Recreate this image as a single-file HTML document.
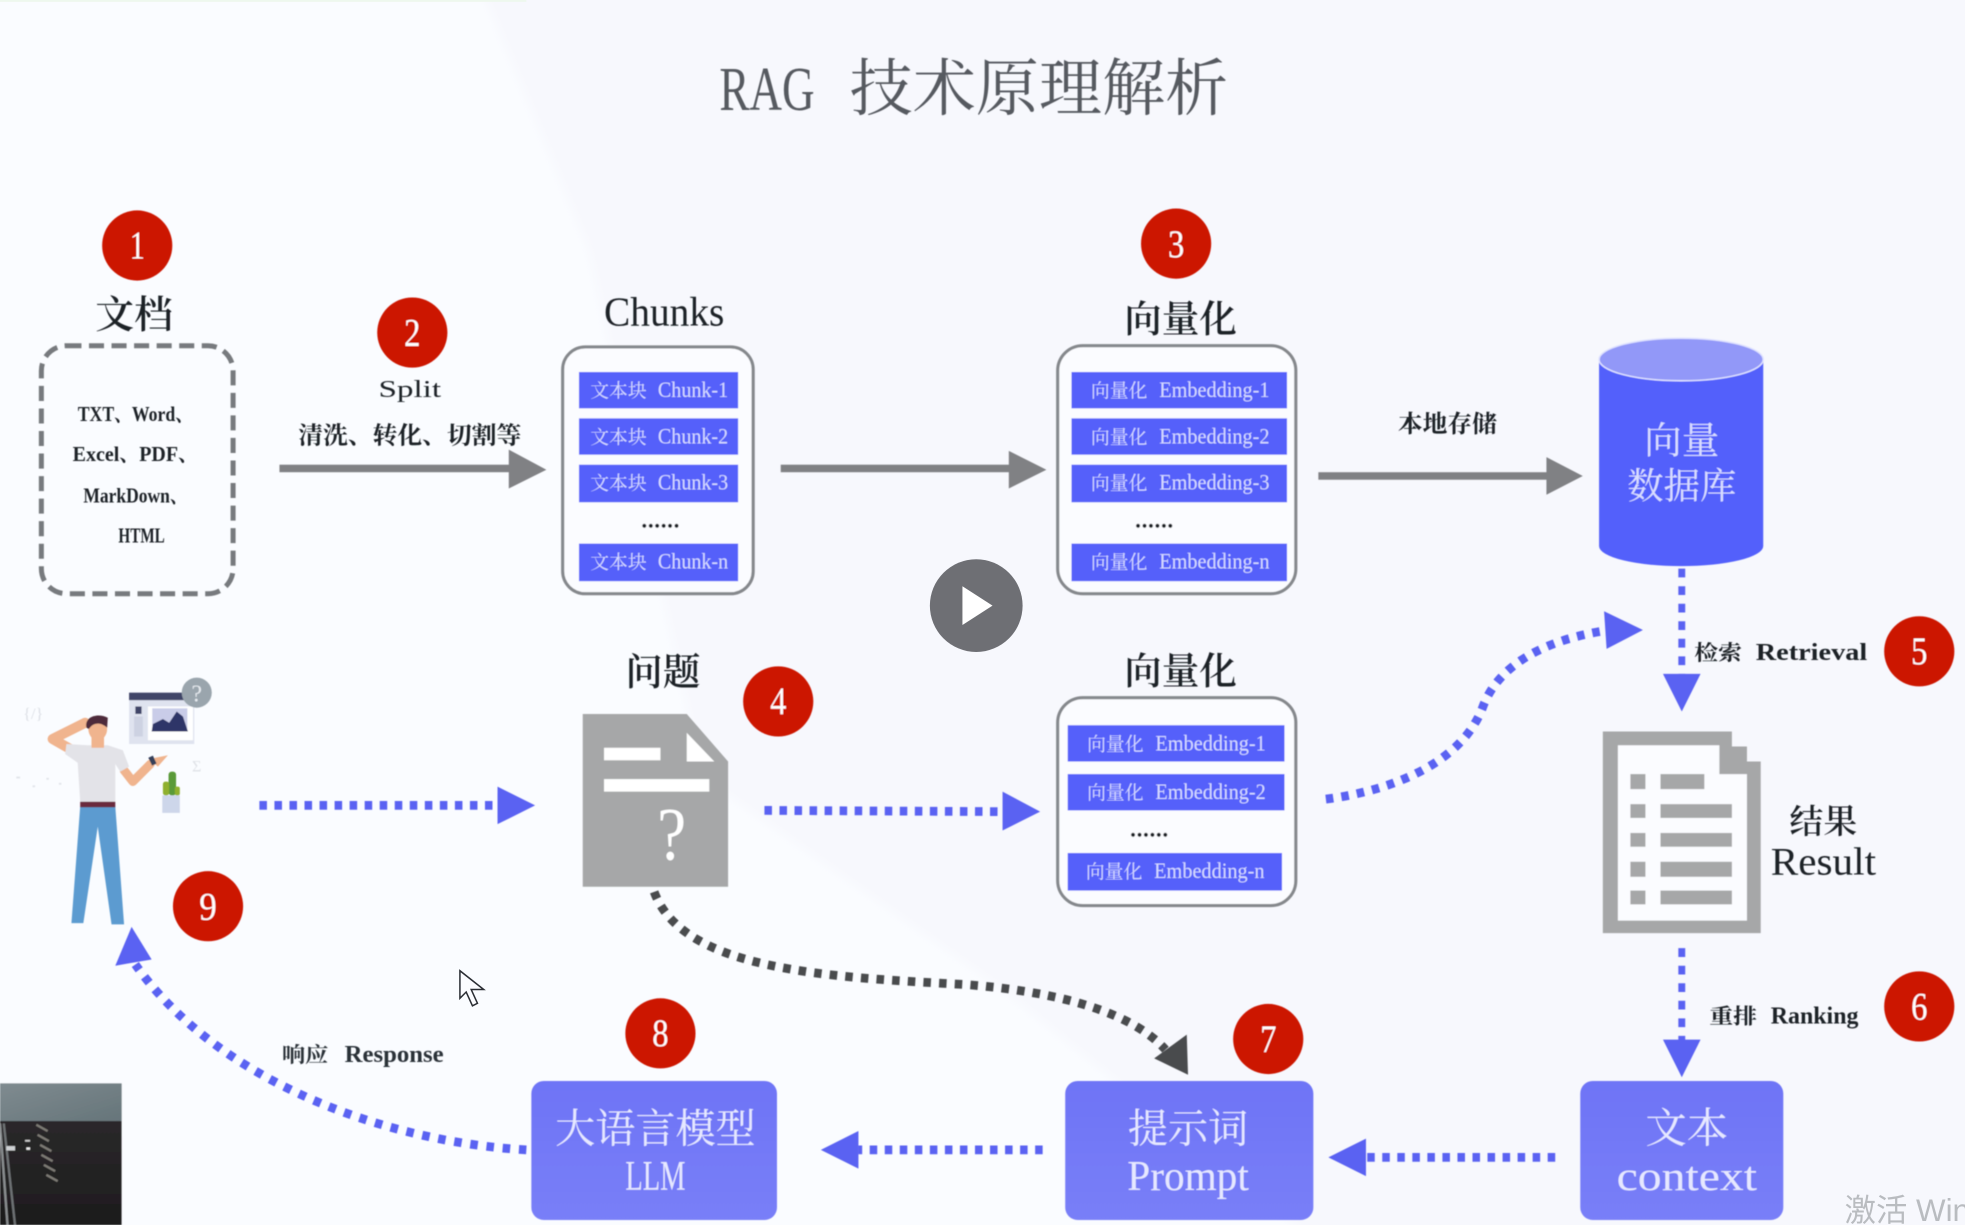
<!DOCTYPE html>
<html lang="zh"><head><meta charset="utf-8"><title>RAG 技术原理解析</title>
<style>
html,body{margin:0;padding:0;width:1965px;height:1225px;overflow:hidden;background:#fafcff}
svg{display:block;position:absolute;left:0;top:0}
text{font-family:"Liberation Serif","Noto Serif CJK SC",serif;text-anchor:middle}
.d{fill:#1d2026}
.n{fill:#fff;font-size:31px}
.c{fill:#d6daff;font-size:15px}
.l{fill:#d6daff;font-size:18px}
.w{fill:#e6e8ff}
.s{font-weight:700;font-size:17px;fill:#1d2026}
.ls{font-weight:700;font-size:19px;fill:#1d2026}
.dot{fill:none;stroke-linecap:butt}
.el{font-size:17px;font-weight:700;fill:#1d2026;stroke:#1d2026;stroke-width:.5}
</style></head><body>
<svg width="1965" height="1225" viewBox="0 0 1568 978" preserveAspectRatio="none" xmlns="http://www.w3.org/2000/svg">
<defs>
<linearGradient id="cam" x1="0" y1="0" x2="0" y2="1"><stop offset="0" stop-color="#2f2d2f"/><stop offset="1" stop-color="#1d1c1d"/></linearGradient>
<linearGradient id="camt" x1="0" y1="0" x2="1" y2="1"><stop offset="0" stop-color="#7f8b90"/><stop offset="1" stop-color="#66757a"/></linearGradient>
<linearGradient id="btn" x1="0" y1="0" x2="0" y2="1"><stop offset="0" stop-color="#6e74f6"/><stop offset="1" stop-color="#797ff8"/></linearGradient>
<filter id="soft" x="-2%" y="-2%" width="104%" height="104%"><feGaussianBlur stdDeviation="0.5"/></filter>
<filter id="bg" x="-5%" y="-5%" width="110%" height="110%"><feGaussianBlur stdDeviation="4"/></filter>
</defs>
<rect width="1568" height="978" fill="#fafcff"/>
<polygon points="380,-20 1600,-20 1600,1000 1060,1000 800,790 560,620 470,200" fill="#f7f8fd" filter="url(#bg)"/>
<rect x="0" y="0" width="420" height="1.5" fill="#eef8ee"/>
<g filter="url(#soft)">
<text x="612" y="88" font-size="50" fill="#565a60" textLength="76" lengthAdjust="spacingAndGlyphs">RAG</text>
<text x="829" y="88" font-size="50" fill="#565a60" textLength="302" lengthAdjust="spacingAndGlyphs">技术原理解析</text>

<!-- document -->
<text x="107" y="262" font-size="31" class="d" font-weight="600">文档</text>
<rect x="33" y="276" width="153" height="198" rx="20" fill="none" stroke="#777a7e" stroke-width="4" stroke-dasharray="12 6"/>
<g font-size="17" font-weight="700" class="d">
<text x="108" y="336" textLength="92" lengthAdjust="spacingAndGlyphs">TXT、Word、</text>
<text x="108" y="368" textLength="100" lengthAdjust="spacingAndGlyphs">Excel、PDF、</text>
<text x="108" y="401" textLength="83" lengthAdjust="spacingAndGlyphs">MarkDown、</text>
<text x="113" y="433" textLength="37" lengthAdjust="spacingAndGlyphs">HTML</text>
</g>

<!-- split -->
<text x="327" y="317" class="ls" style="font-weight:400" textLength="50" lengthAdjust="spacingAndGlyphs">Split</text>
<text x="327" y="354" font-size="19" class="d" font-weight="700" textLength="178" lengthAdjust="spacingAndGlyphs">清洗、转化、切割等</text>
<rect x="223" y="371" width="185" height="6" fill="#808184"/>
<polygon points="406,359 436,375 406,390" fill="#808184"/>

<!-- chunks -->
<text x="530" y="260" font-size="33" class="d" textLength="96" lengthAdjust="spacingAndGlyphs">Chunks</text>
<rect x="449" y="277" width="152" height="197" rx="18" fill="#fbfcff" stroke="#85888c" stroke-width="2.5"/>
<g fill="#5560fa">
<rect x="462" y="297" width="127" height="29"/><rect x="462" y="334" width="127" height="29"/><rect x="462" y="371" width="127" height="30"/><rect x="462" y="434" width="127" height="30"/>
</g>
<g class="c">
<text x="493.500" y="317" class="c">文本块</text><text x="493.500" y="354" class="c">文本块</text><text x="493.500" y="391" class="c">文本块</text><text x="493.500" y="454" class="c">文本块</text>
</g>
<text x="553" y="317" class="l" textLength="56" lengthAdjust="spacingAndGlyphs">Chunk-1</text>
<text x="553" y="354" class="l" textLength="56" lengthAdjust="spacingAndGlyphs">Chunk-2</text>
<text x="553" y="391" class="l" textLength="56" lengthAdjust="spacingAndGlyphs">Chunk-3</text>
<text x="553" y="454" class="l" textLength="56" lengthAdjust="spacingAndGlyphs">Chunk-n</text>
<text x="527" y="421" class="el" textLength="30" lengthAdjust="spacing">......</text>

<!-- arrow 2 -->
<rect x="623" y="371" width="184" height="6" fill="#808184"/>
<polygon points="805,360 835,375 805,390" fill="#808184"/>

<!-- vector 1 -->
<text x="942" y="265" font-size="30" class="d" font-weight="600">向量化</text>
<rect x="844" y="276" width="190" height="198" rx="20" fill="#fbfcff" stroke="#85888c" stroke-width="2.5"/>
<g fill="#5560fa">
<rect x="855" y="297" width="172" height="29"/><rect x="855" y="334" width="172" height="29"/><rect x="855" y="371" width="172" height="30"/><rect x="855" y="434" width="172" height="30"/>
</g>
<text x="893" y="317" class="c">向量化</text><text x="893" y="354" class="c">向量化</text><text x="893" y="391" class="c">向量化</text><text x="893" y="454" class="c">向量化</text>
<text x="969" y="317" class="l" textLength="88" lengthAdjust="spacingAndGlyphs">Embedding-1</text>
<text x="969" y="354" class="l" textLength="88" lengthAdjust="spacingAndGlyphs">Embedding-2</text>
<text x="969" y="391" class="l" textLength="88" lengthAdjust="spacingAndGlyphs">Embedding-3</text>
<text x="969" y="454" class="l" textLength="88" lengthAdjust="spacingAndGlyphs">Embedding-n</text>
<text x="921" y="421" class="el" textLength="30" lengthAdjust="spacing">......</text>

<text x="1155" y="345" font-size="19" class="d" font-weight="700" textLength="79" lengthAdjust="spacingAndGlyphs">本地存储</text>
<rect x="1052" y="377" width="184" height="6" fill="#808184"/>
<polygon points="1234,365 1263,380 1234,395" fill="#808184"/>

<!-- cylinder -->
<path d="M1276 287 V436 A65.500 16 0 0 0 1407 436 V287 Z" fill="#5360fb"/>
<ellipse cx="1341.500" cy="287" rx="65.500" ry="17" fill="#9298f8" stroke="#dfe2ff" stroke-width="1.200"/>
<text x="1342" y="362" font-size="30" fill="#d9ddff">向量</text>
<text x="1342" y="398" font-size="29" fill="#d9ddff">数据库</text>

<!-- retrieval -->
<line x1="1342" y1="454" x2="1342" y2="540" stroke="#5a62f2" stroke-width="5.500" stroke-dasharray="7 7" class="dot"/>
<polygon points="1327,538 1357,538 1342,568" fill="#5a62f2"/>
<text x="1371" y="527" class="s" textLength="38" lengthAdjust="spacingAndGlyphs">检索</text>
<text x="1445.500" y="527" class="ls" textLength="89" lengthAdjust="spacingAndGlyphs">Retrieval</text>

<!-- vector 2 -->
<text x="942" y="546" font-size="30" class="d" font-weight="600">向量化</text>
<rect x="844" y="557" width="190" height="166" rx="20" fill="#fbfcff" stroke="#85888c" stroke-width="2.5"/>
<g fill="#5560fa">
<rect x="852" y="579" width="173" height="29"/><rect x="852" y="618" width="173" height="29"/><rect x="852" y="681" width="171" height="30"/>
</g>
<text x="890" y="599" class="c">向量化</text><text x="890" y="638" class="c">向量化</text><text x="889" y="701" class="c">向量化</text>
<text x="966" y="599" class="l" textLength="88" lengthAdjust="spacingAndGlyphs">Embedding-1</text>
<text x="966" y="638" class="l" textLength="88" lengthAdjust="spacingAndGlyphs">Embedding-2</text>
<text x="965" y="701" class="l" textLength="88" lengthAdjust="spacingAndGlyphs">Embedding-n</text>
<text x="917" y="668" class="el" textLength="30" lengthAdjust="spacing">......</text>

<!-- question -->
<text x="529" y="547" font-size="30" class="d" font-weight="600">问题</text>
<polygon points="465,570 548,570 581,608 581,708 465,708" fill="#a6a7a8"/>
<polygon points="548,585 548,608 570,608" fill="#fff"/>
<rect x="482" y="597" width="45" height="10" fill="#fff"/>
<rect x="482" y="622" width="84" height="10" fill="#fff"/>
<text x="536" y="686" font-size="60" fill="#fff" textLength="23" lengthAdjust="spacingAndGlyphs">?</text>

<!-- dotted arrows -->
<line x1="207" y1="643" x2="398" y2="643" stroke="#5a62f2" stroke-width="7" stroke-dasharray="6 6" class="dot"/>
<polygon points="397,628 427,643 397,658" fill="#5a62f2"/>
<line x1="610" y1="647" x2="800" y2="648" stroke="#5a62f2" stroke-width="7" stroke-dasharray="6 6" class="dot"/>
<polygon points="800,632 830,648 800,663" fill="#5a62f2"/>
<path d="M1058 638 C1105 632 1165 612 1183 565 C1195 532 1230 511 1284 503" stroke="#5a62f2" stroke-width="7" stroke-dasharray="6 6.500" class="dot"/>
<polygon points="1280,488 1311,503 1282,518" fill="#5a62f2"/>

<!-- result -->
<polygon points="1279,584 1382,584 1382,596 1394,596 1394,608 1405,608 1405,745 1279,745" fill="#a6a7a8"/>
<polygon points="1291,595 1372,595 1372,618 1394,618 1394,735 1291,735" fill="#fbfcff"/>
<g fill="#a6a7a8">
<rect x="1301" y="618" width="12" height="12"/><rect x="1325" y="618" width="35" height="12"/>
<rect x="1301" y="642" width="12" height="11"/><rect x="1325" y="642" width="57" height="11"/>
<rect x="1301" y="665" width="12" height="11"/><rect x="1325" y="665" width="57" height="11"/>
<rect x="1301" y="688" width="12" height="12"/><rect x="1325" y="688" width="57" height="12"/>
<rect x="1301" y="711" width="12" height="11"/><rect x="1325" y="711" width="57" height="11"/>
</g>
<text x="1455" y="665" font-size="27" class="d" font-weight="600">结果</text>
<text x="1455" y="698" font-size="31" class="d" textLength="84" lengthAdjust="spacingAndGlyphs">Result</text>

<!-- ranking -->
<line x1="1342" y1="757" x2="1342" y2="832" stroke="#5a62f2" stroke-width="5.500" stroke-dasharray="7 7" class="dot"/>
<polygon points="1327,830 1357,830 1342,860" fill="#5a62f2"/>
<text x="1383" y="817" class="s" textLength="38" lengthAdjust="spacingAndGlyphs">重排</text>
<text x="1448" y="817" class="ls" textLength="70" lengthAdjust="spacingAndGlyphs">Ranking</text>

<!-- bottom boxes -->
<rect x="1261" y="863" width="162" height="111" rx="10" fill="url(#btn)"/>
<rect x="850" y="863" width="198" height="111" rx="10" fill="url(#btn)"/>
<rect x="424" y="863" width="196" height="111" rx="10" fill="url(#btn)"/>
<text x="1346" y="912" font-size="33" class="w">文本</text>
<text x="1346" y="950" font-size="33" class="w" textLength="112" lengthAdjust="spacingAndGlyphs">context</text>
<text x="948" y="912" font-size="32" class="w">提示词</text>
<text x="948" y="950" font-size="34" class="w" textLength="97" lengthAdjust="spacingAndGlyphs">Prompt</text>
<text x="523" y="912" font-size="32" class="w">大语言模型</text>
<text x="523" y="950" font-size="34" class="w" textLength="48" lengthAdjust="spacingAndGlyphs">LLM</text>

<line x1="1241" y1="924" x2="1090" y2="924" stroke="#5a62f2" stroke-width="7" stroke-dasharray="6 6" class="dot"/>
<polygon points="1090,909 1060,924 1090,939" fill="#5a62f2"/>
<line x1="832" y1="918" x2="685" y2="918" stroke="#5a62f2" stroke-width="7" stroke-dasharray="6 6" class="dot"/>
<polygon points="685,903 655,918 685,933" fill="#5a62f2"/>
<path d="M420 918 C310 912 175 865 108 770" stroke="#5a62f2" stroke-width="7" stroke-dasharray="6 7" class="dot"/>
<polygon points="105,740 121,766 92,771" fill="#5a62f2"/>

<!-- dark curve -->
<path d="M522 712 C545 775 660 780 770 786 C850 792 905 810 930 838" stroke="#494b4e" stroke-width="7" stroke-dasharray="6 6.500" class="dot"/>
<polygon points="948,858 921,845 947,826" fill="#494b4e"/>

<text x="243.500" y="848" class="s" textLength="37" lengthAdjust="spacingAndGlyphs" style="fill:#2a3038">响应</text>
<text x="314.500" y="848" class="ls" textLength="79" lengthAdjust="spacingAndGlyphs" style="fill:#2a3038">Response</text>

<!-- person -->
<g>
<rect x="103" y="553" width="52" height="41" fill="#dfe3ef"/>
<rect x="103" y="553" width="52" height="6" fill="#3f4468"/>
<rect x="118" y="564" width="36" height="27" fill="#fff"/>
<rect x="121.500" y="565.500" width="28" height="18.500" fill="#c9cce8"/>
<path d="M121 584 L122 578 L130 574 L135 577 L141 568 L146 572 L150 584 Z" fill="#2e3568"/>
<rect x="108" y="564" width="5" height="6" fill="#3f4468"/><rect x="107" y="572" width="7" height="16" fill="#cdd2e2"/>
<circle cx="157" cy="553" r="12" fill="#9aa5ad"/>
<text x="157" y="560" font-size="19" fill="#e5e9ee">?</text>
<rect x="129.500" y="635" width="14" height="14" fill="#cdd6ea"/>
<rect x="134.500" y="616" width="6" height="19" rx="2.500" fill="#5a9a38"/>
<rect x="130" y="624" width="5" height="11" rx="2" fill="#8fb02e"/>
<rect x="139.500" y="628" width="4" height="7" rx="1.500" fill="#8fb02e"/>
<!-- jeans -->
<path d="M64 644 L57 737 H66.500 L78 660 L89 738 H99 L92 644 Z" fill="#5b9bd0"/>
<rect x="64" y="640" width="28" height="4.500" fill="#6a2c3c"/>
<!-- arms -->
<path d="M56 598 L42 590 L68 577" fill="none" stroke="#f0b48e" stroke-width="8" stroke-linejoin="round" stroke-linecap="round"/>
<path d="M99 615 L106 624 L120 610" fill="none" stroke="#f0b48e" stroke-width="7" stroke-linejoin="round" stroke-linecap="round"/>
<path d="M119 606 L134 603 L126 612 Z" fill="#f0b48e"/>
<rect x="119.500" y="604" width="4" height="7" fill="#34405a" transform="rotate(-25 121 607)"/>
<!-- shirt -->
<path d="M53 594 L70 595 L86 595 L98 599 L103 612 L96 616 L92 610 L92 640 H64 L62 609 L52 602 Z" fill="#e3e3e8"/>
<rect x="73" y="586" width="10" height="11" fill="#f0b48e"/>
<ellipse cx="78" cy="582" rx="7.500" ry="9" fill="#f0b48e"/>
<path d="M69 581 C67 572 78 569 86 573 L85.500 581 C80 576 74 577 71 582 Z" fill="#4d2a3a"/>
<text x="26.500" y="574" font-size="13" fill="#dde0e6">{/}</text>
<text x="157" y="616" font-size="13" fill="#e0e3e8">Σ</text>
<g fill="#e2e5ea"><rect x="13" y="620" width="3" height="1.500"/><rect x="26" y="627" width="2" height="1.500"/><rect x="37" y="621" width="2" height="1.500"/><rect x="47" y="625" width="2" height="1.500"/></g>
</g>

<!-- badges -->
<g fill="#cc1600">
<circle cx="109.500" cy="196" r="28"/><circle cx="329" cy="265.500" r="28"/><circle cx="938.500" cy="194.500" r="28"/><circle cx="621" cy="560" r="28"/><circle cx="1531.500" cy="520" r="28"/><circle cx="1531.500" cy="803.500" r="28"/><circle cx="1012" cy="829.500" r="28"/><circle cx="527" cy="825" r="28"/><circle cx="166" cy="723.500" r="28"/>
</g>
<g>
<text x="109.500" y="206" class="n" textLength="12" lengthAdjust="spacingAndGlyphs">1</text><text x="329" y="276" class="n" textLength="13" lengthAdjust="spacingAndGlyphs">2</text><text x="938.500" y="205" class="n" textLength="13" lengthAdjust="spacingAndGlyphs">3</text><text x="621" y="570" class="n" textLength="13" lengthAdjust="spacingAndGlyphs">4</text><text x="1531.500" y="530" class="n" textLength="13" lengthAdjust="spacingAndGlyphs">5</text><text x="1531.500" y="814" class="n" textLength="13" lengthAdjust="spacingAndGlyphs">6</text><text x="1012" y="840" class="n" textLength="13" lengthAdjust="spacingAndGlyphs">7</text><text x="527" y="835" class="n" textLength="13" lengthAdjust="spacingAndGlyphs">8</text><text x="166" y="734" class="n" textLength="14" lengthAdjust="spacingAndGlyphs">9</text>
</g>
</g>

<!-- overlay -->
<circle cx="779" cy="483.500" r="37" fill="#6e6f74"/>
<polygon points="768,468 792,483.500 768,499" fill="#fff"/>
<path d="M367 775 V797 L372 792 L377 803 L381 801 L376 790 L386 790 Z" fill="#fbfcff" stroke="#2a2d33" stroke-width="1.200"/>
<g filter="url(#soft)">
<rect x="0" y="865" width="97" height="113" fill="url(#cam)"/>
<rect x="0" y="865" width="97" height="30" fill="url(#camt)"/>
<g stroke="#8a8e90" stroke-width="1.800" fill="none"><line x1="0" y1="897" x2="6" y2="978"/><line x1="3" y1="897" x2="12" y2="978" stroke="#6e7274"/></g>
<g stroke="#7d7a74" stroke-width="1.800"><line x1="29" y1="898" x2="38" y2="903"/><line x1="30" y1="906" x2="39" y2="911"/><line x1="32" y1="914" x2="41" y2="919"/><line x1="33" y1="922" x2="42" y2="927"/><line x1="35" y1="930" x2="44" y2="935"/><line x1="37" y1="938" x2="46" y2="943"/></g>
<rect x="5" y="915" width="7" height="3.500" fill="#cfd2d4"/><rect x="20" y="910" width="4" height="1.500" fill="#ccc"/><rect x="21" y="916" width="3" height="2" fill="#eee"/>
</g>
<text x="1472" y="975" font-size="25" fill="#b9bcc0" style="text-anchor:start;font-family:'Liberation Sans','Noto Sans CJK SC',sans-serif">激活 Windows</text>
</svg>
</body></html>
